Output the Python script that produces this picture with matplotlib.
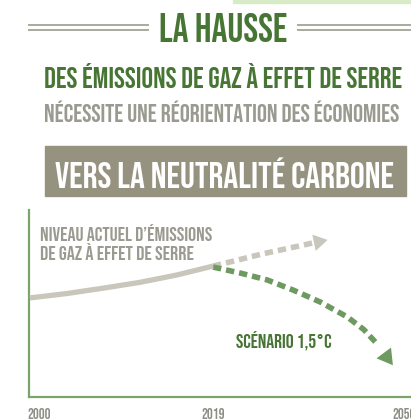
import numpy as np
import matplotlib
matplotlib.use("Agg")
import matplotlib.pyplot as plt
from matplotlib import font_manager as fm
from matplotlib.patches import Rectangle
from matplotlib.lines import Line2D

# data (arbitrary emission index)
hist_years = [1999, 2003, 2007, 2011, 2015, 2019]
hist_vals = [53, 55.3, 58.2, 61.3, 65.2, 70]

bau_years = [2019, 2027, 2035.4]
bau_vals = [70, 76.5, 82.5]
bau_tip = (2037.6, 84)

scen_years = [2019, 2023.4, 2027.8, 2032, 2036.4, 2040.8, 2043.5, 2045.6]
scen_vals = [69.5, 66.3, 62.6, 57.2, 50.8, 42.8, 36, 28.5]
scen_tip = (2048.2, 17)

tick_years = [2000, 2019, 2050]
tick_labels = ["2000", "2019", "2050"]

GREEN = "#477534"
LINE_GREEN = "#7ba46c"
DASH_GREEN = "#6e9961"
GRAY_LINE = "#c9c7bc"
GRAY_TXT = "#9b9a90"
BOX = "#95927f"

W, H = 411, 419


def pick_font(candidates):
    for name in candidates:
        try:
            fm.findfont(fm.FontProperties(family=name), fallback_to_default=False)
            return name
        except Exception:
            continue
    return "DejaVu Sans"


FONT = pick_font(["Bebas Neue", "Oswald", "League Gothic", "Antonio", "Archivo Narrow",
                  "Liberation Sans Narrow", "DejaVu Sans"])


def fx(x):
    return x / W


def fy(y):
    return 1 - y / H


fig = plt.figure(figsize=(4.11, 4.19), dpi=100)
fig.patch.set_facecolor("white")
renderer = fig.canvas.get_renderer()


def fit_text(x0, x1, y_base, s, color, size=20):
    # centred between x0 and x1 (pixels), sized to that width
    t = fig.text(fx((x0 + x1) / 2), fy(y_base), s, color=color, fontsize=size,
                 fontweight="bold", family=FONT, ha="center", va="baseline")
    w = t.get_window_extent(renderer=renderer).width
    t.set_fontsize(size * (x1 - x0) / w)
    return t


def left_text(x0, x1, y_base, s, color, size=10):
    t = fig.text(fx(x0), fy(y_base), s, color=color, fontsize=size,
                 fontweight="bold", family=FONT, ha="left", va="baseline")
    w = t.get_window_extent(renderer=renderer).width
    t.set_fontsize(size * (x1 - x0) / w)
    return t


# light green strip at the top right
fig.patches.append(Rectangle((fx(233), fy(3)), fx(411) - fx(233), 3 / H,
                             transform=fig.transFigure, color="#d6ebc6", zorder=0))

# headings
fit_text(159, 287, 42, "LA HAUSSE", GREEN)
for y in (25, 30.5):
    fig.lines.append(Line2D([fx(29), fx(148)], [fy(y), fy(y)], transform=fig.transFigure,
                            color="#a9a99c", lw=1.4))
    fig.lines.append(Line2D([fx(298), fx(411)], [fy(y), fy(y)], transform=fig.transFigure,
                            color="#a9a99c", lw=1.4))

fit_text(45, 402, 88, "DES ÉMISSIONS DE GAZ À EFFET DE SERRE", GREEN)
fit_text(44, 400, 122, "NÉCESSITE UNE RÉORIENTATION DES ÉCONOMIES", GRAY_TXT)

fig.patches.append(Rectangle((fx(45), fy(196)), fx(406) - fx(45), 50 / H,
                             transform=fig.transFigure, color=BOX, zorder=0))
fit_text(55, 393, 188, "VERS LA NEUTRALITÉ CARBONE", "white")

# chart area
ax = fig.add_axes([fx(29), fy(397), (420 - 29) / W, (397 - 210) / H])


def fwd(x):
    x = np.asarray(x, dtype=float)
    return np.where(x <= 2019, (x - 2019) * 174 / 19, (x - 2019) * 191 / 31)


def inv(u):
    u = np.asarray(u, dtype=float)
    return np.where(u <= 0, 2019 + u * 19 / 174, 2019 + u * 31 / 191)


ax.set_xscale("function", functions=(fwd, inv))
ax.set_xlim(1998.9, 2052.6)
ax.set_ylim(0, 100)

ax.plot(hist_years, hist_vals, color=GRAY_LINE, lw=3.8, solid_capstyle="butt",
        solid_joinstyle="round", zorder=3)
ax.plot(bau_years, bau_vals, color=GRAY_LINE, lw=4, dashes=(1.5, 0.9),
        dash_capstyle="butt", zorder=2)
ax.annotate("", xy=bau_tip, xytext=(bau_years[-1], bau_vals[-1]),
            arrowprops=dict(arrowstyle="-|>,head_length=1.0,head_width=0.6",
                            color=GRAY_LINE, lw=0, mutation_scale=10,
                            shrinkA=0, shrinkB=0))
ax.plot(scen_years, scen_vals, color=DASH_GREEN, lw=4, dashes=(1.5, 0.9),
        dash_capstyle="butt", dash_joinstyle="round", zorder=2)
ax.annotate("", xy=scen_tip, xytext=(scen_years[-1], scen_vals[-1]),
            arrowprops=dict(arrowstyle="-|>,head_length=1.1,head_width=0.65",
                            color=DASH_GREEN, lw=0, mutation_scale=10,
                            shrinkA=0, shrinkB=0))

left_text(40, 213, 241, "NIVEAU ACTUEL D\u2019ÉMISSIONS", GRAY_TXT)
left_text(40, 195, 260, "DE GAZ À EFFET DE SERRE", GRAY_TXT)
left_text(236, 333, 348, "SCÉNARIO 1,5°C", GREEN)

for s in ("top", "right"):
    ax.spines[s].set_visible(False)
for s in ("left", "bottom"):
    ax.spines[s].set_color(LINE_GREEN)
    ax.spines[s].set_linewidth(1.6)
ax.set_yticks([])
ax.set_xticks(tick_years)
ax.set_xticklabels(tick_labels, fontsize=10.5, color="#8e8d85", family=FONT)
ax.tick_params(axis="x", length=0, pad=8)
ax.patch.set_alpha(0)

fig.savefig("out.png", dpi=100)
